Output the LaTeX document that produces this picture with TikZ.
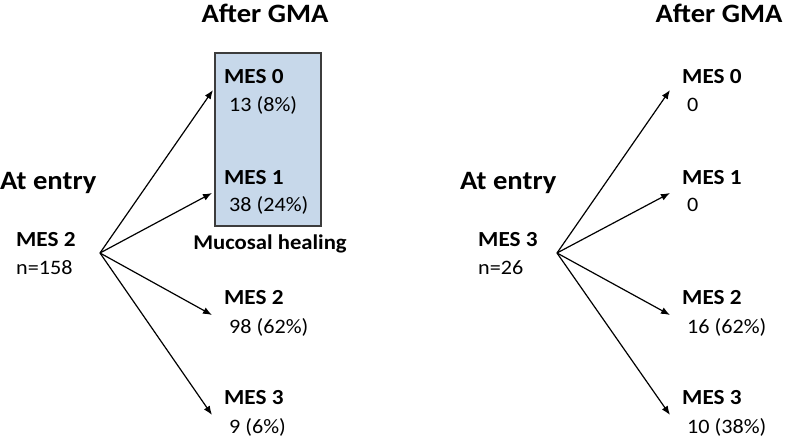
\documentclass[tikz,border=0pt]{standalone}
\usepackage{fontspec}
\setmainfont{Carlito}[FakeStretch=1.08]
\usetikzlibrary{arrows.meta}
\definecolor{healfill}{RGB}{199,216,234}
\definecolor{healdraw}{RGB}{60,60,60}
\tikzset{
  title/.style={font=\fontsize{26.5}{30}\selectfont\bfseries, inner sep=0pt},
  mes/.style={font=\fontsize{21.5}{24}\selectfont\bfseries, anchor=west, inner sep=0pt},
  val/.style={font=\fontsize{20.5}{24}\selectfont, anchor=west, inner sep=0pt},
  arr/.style={line width=1.2pt, -{Latex[length=9pt,width=7pt]}},
  healbox/.style={draw=healdraw, fill=healfill, line width=1.1pt, inner sep=0pt}
}
\begin{document}
\begin{tikzpicture}[x=1pt,y=-1pt]
\useasboundingbox (0,0) rectangle (787,438);
% left panel
\node[healbox, minimum width=106pt, minimum height=173pt] (hb) at (268,139.5) {};
\node[title] (t1) at (265,13) {After GMA};
\node[title, anchor=west] (e1) at (0,183) {At entry};
\node[mes] (s1) at (16,240) {MES 2};
\node[val] (n1) at (16,268) {n=158};
\coordinate (o1) at (100,253);
\node[mes] (a0) at (224,77) {MES 0};
\node[val] (b0) at (229,105) {13 (8\%)};
\node[mes] (a1) at (224,178) {MES 1};
\node[val] (b1) at (229,205) {38 (24\%)};
\node[font=\fontsize{21}{24}\selectfont\bfseries, inner sep=0pt] (mh) at (270,244) {Mucosal healing};
\node[mes] (a2) at (224,298) {MES 2};
\node[val] (b2) at (229,327) {98 (62\%)};
\node[mes] (a3) at (224,398) {MES 3};
\node[val] (b3) at (229,427) {9 (6\%)};
\coordinate (p0) at (213,90);
\coordinate (p1) at (212,193);
\coordinate (p2) at (212,315);
\coordinate (p3) at (212,415);
\foreach \i in {0,1,2,3} \draw[arr] (o1) -- (p\i);
% right panel
\node[title] (t2) at (719,13) {After GMA};
\node[title, anchor=west] (e2) at (460,183) {At entry};
\node[mes] (s2) at (478,240) {MES 3};
\node[val] (n2) at (478,268) {n=26};
\coordinate (o2) at (557,253);
\node[mes] (c0) at (682,77) {MES 0};
\node[val] (d0) at (687,105) {0};
\node[mes] (c1) at (682,178) {MES 1};
\node[val] (d1) at (687,205) {0};
\node[mes] (c2) at (682,298) {MES 2};
\node[val] (d2) at (687,327) {16 (62\%)};
\node[mes] (c3) at (682,398) {MES 3};
\node[val] (d3) at (687,427) {10 (38\%)};
\coordinate (q0) at (670,90);
\coordinate (q1) at (670,193);
\coordinate (q2) at (670,315);
\coordinate (q3) at (670,415);
\foreach \i in {0,1,2,3} \draw[arr] (o2) -- (q\i);
\end{tikzpicture}
\end{document}
